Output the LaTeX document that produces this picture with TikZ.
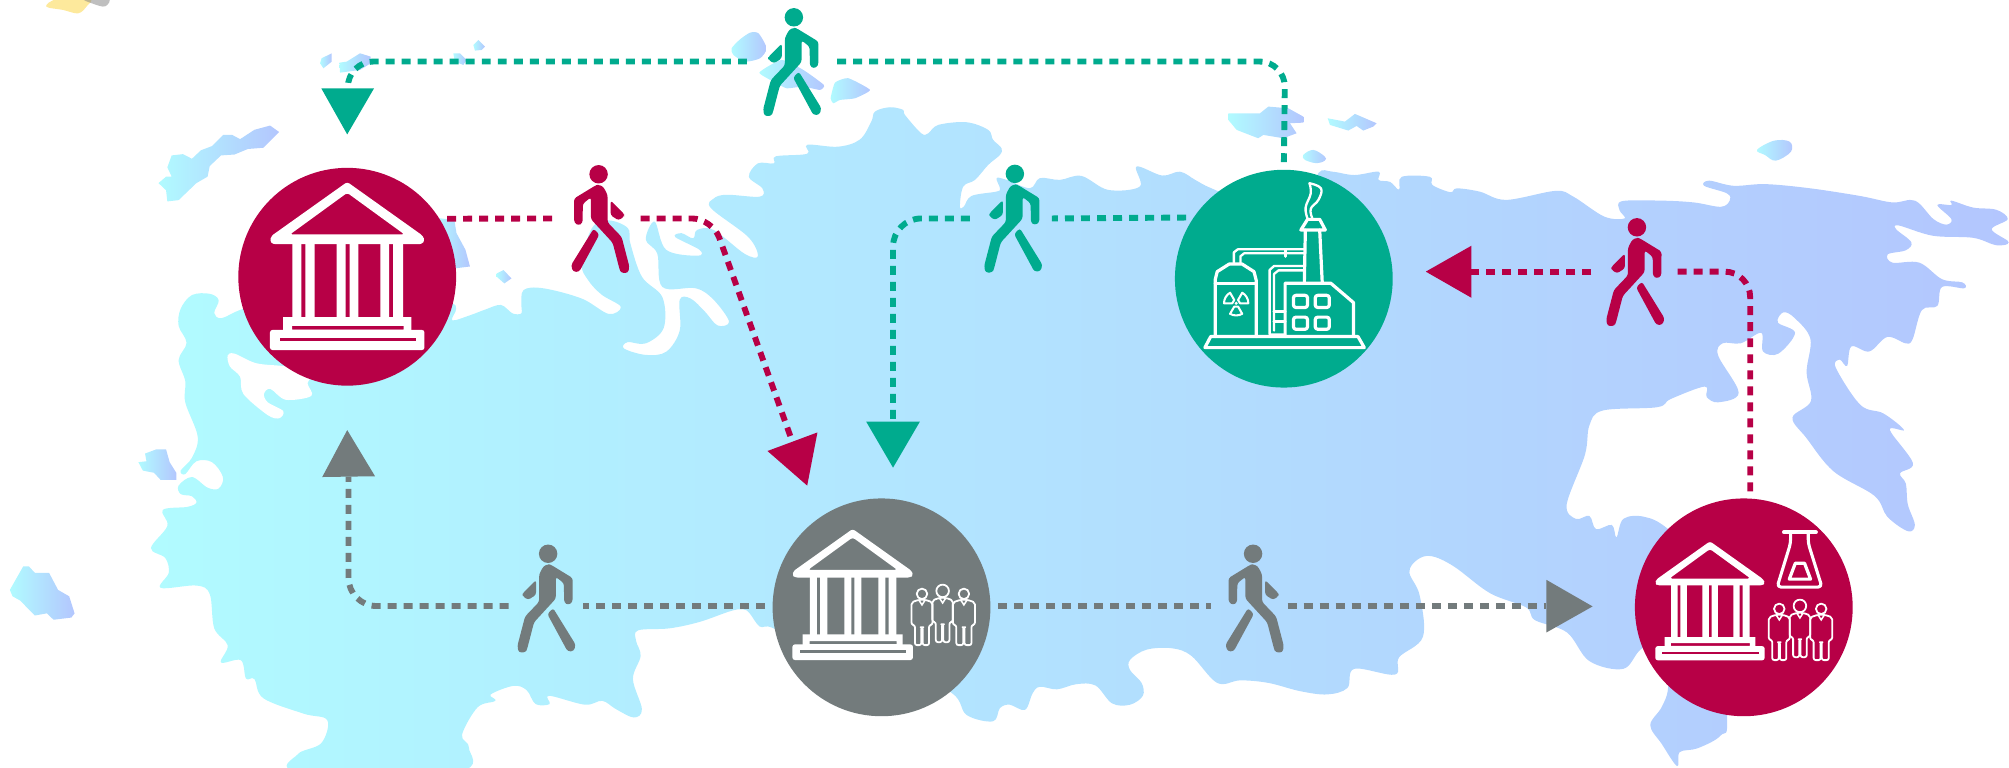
\documentclass[tikz,border=0pt]{standalone}
\usetikzlibrary{calc}
\definecolor{crim}{HTML}{B70046}
\definecolor{grn}{HTML}{00AB8E}
\definecolor{gry}{HTML}{737B7C}
\definecolor{landL}{HTML}{B1FBFF}
\definecolor{landR}{HTML}{B3C6FE}
\tikzset{
  land/.style={left color=landL,right color=landR,draw=none},
  disc/.style={circle,inner sep=0pt,minimum size=85pt,fill=#1,draw=none},
  dotline/.style={draw=#1,line width=2.3pt,dash pattern=on 3.5pt off 2.75pt},
  dotfirst/.style={dotline=#1,dash phase=3.5pt},
  icon/.style={draw=white,line width=1.25pt,line join=round,line cap=round},
  pics/walker/.style={code={
    \fill[#1] (0,0) circle[radius=7.2];
    \fill[#1,rounded corners=1pt] (0,8.2) -- (3.5,9.5) -- (7,16) -- (7,37.5) -- (18,49) -- (24,72) -- (23,77) -- (17.5,77) -- (16.3,74) -- (11,53.5) -- (-6,35) -- (-6,18) -- (-12.3,23) -- (-12.5,38) -- (-15.5,40) -- (-19,38) -- (-19.2,19) -- (-2,8.5) -- cycle;
    \fill[#1,rounded corners=1pt] (.6,47) -- (-3.9,42.5) -- (-21.5,71) -- (-20,76) -- (-15.2,76.2) -- cycle;
    \fill[#1,rounded corners=1pt] (9.4,20.5) -- (9.4,32) -- (15.6,36) -- (20,33) -- (20,31) -- cycle;
  }},
  pics/building/.style={code={
    \fill[white,even odd rule,rounded corners=1pt] (0,-1) -- (59,41) -- (60.5,45) -- (58,47.6) -- (-58,47.6) -- (-60.5,45) -- (-59,41) -- cycle
      (0,7.5) -- (44.7,40) -- (-44.7,40) -- cycle;
    \fill[white] (-42.8,47) rectangle (-35.8,105) (-32.7,47) rectangle (-25.4,105)
      (-8.3,47) rectangle (-1.3,105) (1.8,47) rectangle (8.8,105)
      (25.8,47) rectangle (32.8,105) (35.9,47) rectangle (43.6,105);
    \fill[white,even odd rule] (-50,104.6) rectangle (50,116) (-43,111.3) rectangle (44,114.3);
    \fill[white,rounded corners=1pt] (-60.3,114.5) rectangle (60.3,130.2);
    \fill[#1] (-52.5,120.6) rectangle (53.7,123.3);
  }},
  pics/staff/.style={code={
    \foreach \cx/\cy/\hw/\hr in {-16.1/2.3/8.2/4.1, 16.6/2.3/8.6/4.1, 0/0/8/4.9}{
      \begin{scope}[shift={(\cx,\cy)}]
        \draw[draw=white,line width=.7pt,line join=round] (0,0) circle[radius=\hr];
        \draw[draw=white,line width=.7pt,line join=round,rounded corners=.8pt]
          (-2.5,{\hr+.5}) -- (-\hw,{\hr+2.5}) -- (-\hw,24) -- ({-\hw+2.7},24.5) -- ({-\hw+2.7},40) -- (-.5,40) -- (-.5,26) -- (.5,26) -- (.5,40) -- ({\hw-2.7},40) -- ({\hw-2.7},24.5) -- (\hw,24) -- (\hw,{\hr+2.5}) -- (2.5,{\hr+.5}) -- cycle;
        \draw[draw=white,line width=.6pt] (-2.5,{\hr+.6}) -- (0,{\hr+4.5}) -- (2.5,{\hr+.6});
      \end{scope}
    }
  }}
}
\begin{document}
\begin{tikzpicture}[x=.5pt,y=-.5pt]
\useasboundingbox (0,0) rectangle (1568,599.4);
% stray fragment, top left
\fill[yellow!60!orange,opacity=.4] plot[smooth cycle,tension=.6] coordinates {(36,5) (45.5,-1) (70,-1) (67.6,5) (61,10.4) (49.4,7.8)};
\fill[gray,opacity=.5] plot[smooth cycle,tension=.6] coordinates {(65,-1) (84.6,-1) (82,5) (72.8,3)};
% mainland
\shade[land] plot[smooth cycle,tension=.58] coordinates {
(141,241) (149.8,230.3) (163.7,229.3) (170.7,234.3) (167.2,244.3) (173,248.3) (190,241) (230,230) (310,230) (350,236) (356,241) (353,250) (367,246) (379,241.5) (391,238) (400,244.6) (407,244.6) (407,239) (408.6,226.4) (424,225) (454,233) (475,245) (484.5,239.4) (469.6,230) (459,218.6) (454,205.6) (462,178) (475,172) (490,178) (492,190) (501,216) (517,232) (518,256) (504,268) (490,267) (487,272) (504,277) (520,274.5) (530.5,258) (530.5,234) (539,233) (550,243) (560,254) (569,251) (557,234) (543,225) (517,224) (513,198) (504,187) (511,173) (520,195) (544.5,199.6) (546,195) (527,185) (532,182) (541,186) (544,179.5) (557,179.5) (581,198) (591.5,200) (584,185) (555,162.6) (557,155) (567,152) (593,153.5) (595,147) (584.5,138) (591.5,127.5) (604,127.5) (605.5,122) (630,120) (630,113) (654,114.5) (671,109) (680,95) (683,87) (694.6,83.7) (705,85.8) (706.3,89.7) (719,104) (724.5,104) (732.3,97.5) (754.4,95.4) (771.3,101.4) (775,109) (781.7,115.7) (780.4,120.9) (771.3,128.7) (761,140.4) (751.8,145.6) (749.2,161.2) (752.3,161.2) (758.3,152.9) (777.8,149.5) (780.4,146.9) (777.8,139) (785.6,140.4) (803.8,146.9) (811.6,139) (827.2,140.4) (844,137.3) (864.9,148.2) (889.6,145.6) (887,130) (907,137) (921,134) (933,140.5) (945.6,147) (980,160) (1020,160) (1029,135) (1040,134) (1057,136.6) (1076,134) (1076,140.5) (1085,142) (1092,148) (1094,138) (1116,138) (1118,144.4) (1132,150) (1137,147) (1155,149.6) (1175.5,156) (1214,149) (1228,153.5) (1252,169) (1268,170.5) (1264,164) (1266,157) (1297,156.6) (1322,158) (1343,161.4) (1350,156.6) (1348,151) (1330,145) (1334,141) (1353,145) (1378,143.7) (1413,147) (1452,153) (1477,158) (1494.6,156.6) (1509,171) (1519,175.3) (1523,171) (1512,160) (1523,160) (1523,156.6) (1540,162) (1558,163.7) (1567,171) (1554.5,179) (1568,189) (1558,191.4) (1540,185.6) (1508.6,184) (1482,176) (1480,179) (1491.7,189) (1487.5,195.3) (1473.4,198.5) (1477,205) (1498,205) (1515.7,217.9) (1531.6,220.4) (1533,225) (1515.7,224) (1512,238.8) (1500,242) (1492.8,264.6) (1487.5,268) (1473,263) (1459,274.3) (1445,270.4) (1441.6,285.6) (1436,280.7) (1432.8,287) (1452,316) (1470,322.7) (1486,335.6) (1475,335.6) (1493,361.4) (1483,369.4) (1487.5,377.5) (1489,393.6) (1494.5,409.7) (1489,414.6) (1473,403.3) (1463,387) (1431,367.8) (1410,342) (1399,326) (1413.4,313) (1410,290.4) (1413,264.6) (1401,248.5) (1392,243.7) (1387.6,251.7) (1401,259.8) (1388,276) (1376,274.3) (1374.6,259.8) (1358.7,267.9) (1344.6,267.9) (1341,277.5) (1357,306.5) (1341,314) (1332,309.8) (1330.5,301.7) (1304,311.4) (1293.4,317.8) (1251,320.4) (1240.5,332) (1237,355) (1222.8,393.6) (1230,405) (1240.5,402.7) (1245.7,413) (1258,409.7) (1261.6,419.4) (1267,405) (1283,403.3) (1302,413) (1340,450) (1348,558) (1343,574) (1325,584) (1311,587) (1309,598) (1297,580.7) (1288,566) (1297,551.7) (1302,535.5) (1300,500) (1281,506.5) (1267,522) (1240.5,516) (1223,493.6) (1198,484) (1191,474) (1163,463) (1134.6,442) (1117,434) (1106,437) (1100,446.8) (1108,464.6) (1110.6,497) (1092,513) (1088.7,526.5) (1057,522) (1051.6,537) (1035.8,542) (1014.6,539.4) (990,533) (968,531) (950,533) (930,512) (915,506) (895,507) (882,515) (882,523) (891,533) (892,543) (882,550) (868,549) (855,535) (840,534) (825,538) (811.6,536) (806,541) (800,554) (788,550) (780.4,552.7) (775,563) (754.4,558) (743,541) (700,520) (640,510) (603.6,490.3) (593,489) (585,478.6) (580,475.5) (570,477) (546,485.4) (522.6,490.4) (498,492) (496.5,500.3) (500,512) (494,530) (501,553.5) (494.7,560) (480.8,553.5) (470,547) (456.4,550) (428.5,543) (429,549.5) (418,549.5) (411,538.6) (400.7,535.3) (383,542) (386.7,547) (372.8,552) (360.6,573.5) (366,583.5) (357,602) (233.4,602) (232.7,588.4) (250.8,580) (255.4,562) (237,557) (205.6,545) (198.6,530) (192,529.6) (188,515.3) (172.5,517) (177.7,503.6) (167.2,490.3) (163.7,463.7) (153.3,457) (125.4,458.8) (131.7,447) (129,435.5) (117.8,427.8) (130.6,410.5) (127,398) (146.3,395.6) (153.3,392.3) (149.8,387.3) (141,385.6) (139.4,379) (149.8,372.3) (162,380.6) (170.7,381.3) (174,372.3) (165.5,360.7) (153.3,360) (144.6,370) (141,367.3) (149.8,357.3) (154.3,340.7) (144.6,314) (144.6,297.5) (139.4,281) (145.6,267.6) (139.4,254.3)};
% White Sea
\fill[white] plot[smooth cycle,tension=.55] coordinates {(177.7,277.5) (183,276) (200,283.5) (223,286) (244,291) (240,299) (243,309) (223,312) (211,303.5) (206,307.5) (209,314) (221,320.8) (218,326.4) (209,324) (190,307.5) (187.4,294) (179.4,286)};
% islands
\shade[land] (958.7,88.4) -- (983.4,88.4) -- (989.9,83.2) -- (1005.5,84.5) -- (1017.2,91) -- (1017.2,95.7) -- (1006.8,96.2) -- (1012,104) -- (1001.6,107.9) -- (986,105.3) -- (982,107.9) -- (965.2,101.4) -- (958.7,93.6) -- cycle;
\shade[land] (1036.2,92.3) -- (1049.7,94.9) -- (1057.5,88.9) -- (1074.4,96.2) -- (1071.8,98.8) -- (1064,101.9) -- (1058.8,98.3) -- (1052.3,101.9) -- (1038,97.5) -- cycle;
\shade[land] plot[smooth cycle,tension=.6] coordinates {(1017.2,120.9) (1025,117) (1034,122.2) (1034,125.3) (1027.6,127.4) (1018.5,124.8)};
\shade[land] (251,45.5) -- (258.9,41.6) -- (258.9,48.1) -- (252.4,53.3) -- (249.8,49.4) -- cycle;
\shade[land] (264.9,48.9) -- (270.6,48.1) -- (281,41.6) -- (289.3,44.2) -- (289.3,49.4) -- (281,54.6) -- (265.4,56.7) -- cycle;
\shade[land] (353.8,41.6) -- (359,41.6) -- (364.2,46.8) -- (361.6,50.7) -- (355,48.1) -- cycle;
\shade[land] (373.3,31.2) -- (378.5,36.4) -- (375.9,39) -- (370.7,39.5) -- (369.4,35.1) -- cycle;
\shade[land] plot[smooth cycle,tension=.4] coordinates {(571,37.7) (577.6,30.7) (585.4,25.5) (592,26) (598.4,37.7) (593.2,45.5) (581.5,48.1) (572.4,42.9)};
\shade[land] plot[smooth cycle,tension=.3] coordinates {(592.7,56.7) (610,46.8) (627,54.6) (643,66.3) (640,70.2) (627,67.6) (614,68.9) (606.2,65)};
\shade[land] plot[smooth cycle,tension=.3] coordinates {(651.7,64.5) (662,61) (679,70.2) (667.3,76.7) (655.6,78) (650.4,80.6) (648.3,76.7)};
\shade[land] (123.7,142.9) -- (129.6,137.9) -- (134,137.9) -- (130.6,130.6) -- (134,121.3) -- (142.8,120.3) -- (149.8,123.9) -- (156.8,117.3) -- (165.5,114) -- (174.2,105.3) -- (181.2,105.3) -- (187.4,108.6) -- (198.6,101.3) -- (210.8,98) -- (217.8,103) -- (205.6,115.3) -- (193.4,116.3) -- (183,120.6) -- (172.5,121.3) -- (163.7,129.6) -- (162,137.9) -- (153.3,142.9) -- (139.4,156.2) -- (130.6,157.2) -- (129.6,148.5) -- cycle;
\shade[land] (108,360.7) -- (114.3,360) -- (113.2,354) -- (122,350.7) -- (129.6,350.7) -- (132.4,360.7) -- (137.6,369) -- (137.6,374.6) -- (125.4,374.6) -- (120.2,369) -- (111.5,367.3) -- cycle;
\shade[land] (7.7,460.4) -- (18.1,442.1) -- (22.6,442.1) -- (27.2,447.1) -- (38.3,447.1) -- (45.3,460.4) -- (54,465.4) -- (58.2,478.7) -- (55.7,482) -- (41.8,483.7) -- (36.6,478.7) -- (27.2,480.4) -- (15.7,468.7) -- (9.8,465.4) -- cycle;
\shade[land] (340,170) -- (354.6,171.7) -- (356.3,182) -- (363.3,195) -- (366.8,208) -- (354.6,209.5) -- (340,205) -- cycle;
\shade[land] (387.7,213.4) -- (393,210.8) -- (399.2,217.3) -- (393.6,221.2) -- (387.7,216) -- cycle;
\shade[land] plot[smooth cycle,tension=.6] coordinates {(1371.3,117) (1384.6,109.8) (1396.8,110.6) (1397.8,118.4) (1386,125.4) (1377.6,121)};
% hubs
\node[disc=crim,anchor=center] (A) at (271,216) {};
\node[disc=gry,anchor=center] (B) at (688,474) {};
\node[disc=grn,anchor=center] (C) at (1002,217.5) {};
\node[disc=crim,anchor=center] (D) at (1361,474) {};
% connector way-points
\coordinate (tEnd) at (271.5,69);
\coordinate (tCornerL) at (271.5,48);
\coordinate (tGapL) at (583,48);
\coordinate (tGapR) at (652,48);
\coordinate (tCornerR) at (1003,48);
\coordinate (aGapL) at (433,170.5);
\coordinate (aGapR) at (500,170.5);
\coordinate (aCorner) at (556,170.5);
\coordinate (aEnd) at (618.5,345);
\coordinate (cGapR) at (821,170.5);
\coordinate (cGapL) at (757,170.5);
\coordinate (cCorner) at (697,170.5);
\coordinate (cEnd) at (697,329);
\coordinate (dCorner) at (1366,212);
\coordinate (dGapR) at (1308,212);
\coordinate (dGapL) at (1242,212);
\coordinate (dEnd) at (1148.4,212);
\coordinate (dStart) at (1366,389);
\coordinate (bGapLR) at (454.7,473);
\coordinate (bGapLL) at (397,473);
\coordinate (bCorner) at (272,473);
\coordinate (bEndL) at (272,372);
\coordinate (bGapRL) at (945,473);
\coordinate (bGapRR) at (1005,473);
\coordinate (bEndR) at (1207,473);
% connectors
\draw[dotfirst=grn,rounded corners=10pt] (C.north) -- (tCornerR) -- (tGapR);
\draw[dotline=grn,rounded corners=10pt] (tGapL) -- (tCornerL) -- (tEnd);
\draw[dotfirst=crim] (A.32.3) -- (aGapL);
\draw[dotline=crim,rounded corners=8pt] (aGapR) -- (aCorner) -- (aEnd);
\draw[dotfirst=grn] (C.146.4) -- (cGapR);
\draw[dotline=grn,rounded corners=11pt] (cGapL) -- (cCorner) -- (cEnd);
\draw[dotfirst=crim,rounded corners=10pt] (dStart) -- (dCorner) -- (dGapR);
\draw[dotline=crim] (dGapL) -- (dEnd);
\draw[dotfirst=gry] (B.west |- bGapLR) -- (bGapLR);
\draw[dotline=gry,rounded corners=11pt] (bGapLL) -- (bCorner) -- (bEndL);
\draw[dotfirst=gry] (B.east |- bGapRL) -- (bGapRL);
\draw[dotline=gry] (bGapRR) -- (bEndR);
% arrowheads
\fill[grn] (250.8,69) -- (291.9,69) -- (271,104.9) -- cycle;
\fill[gry] (271,335.7) -- (251.5,372.3) -- (292.7,371.7) -- cycle;
\fill[crim] (638,337.5) -- (599,352) -- (630,379) -- cycle;
\fill[grn] (676,329) -- (718,329) -- (697,365) -- cycle;
\fill[crim] (1112.8,212) -- (1148.4,191.8) -- (1148.4,232.4) -- cycle;
\fill[gry] (1207,452.6) -- (1207,493.6) -- (1243,473.3) -- cycle;
% icons: columned buildings
\pic at (271,143) {building=crim};
\pic[scale=.78] at (665.5,413.6) {building=gry};
\pic[scale=.708] at (1334.6,423.2) {building=crim};
\pic at (735.7,461.2) {staff};
\pic at (1404.8,472.9) {staff};
% flask
\draw[icon,line width=1.5pt] (1392.3,415.4) -- (1417.3,415.4);
\draw[icon,line width=1.2pt,rounded corners=1.5pt] (1397.5,416.2) -- (1397.5,424) -- (1387,458.2) -- (1422,458.2) -- (1411.3,424) -- (1411.3,416.2);
\draw[icon] (1401.2,439.6) -- (1408.4,439.6) -- (1413.1,452) -- (1396.5,452) -- cycle;
% factory
\draw[icon] (940.4,271.3) -- (1064.8,271.3) -- (1059.9,262.7) -- (944.9,262.7) -- cycle;
\draw[icon] (948.4,262.7) -- (948.4,218.5) -- (950,212) -- (959.5,206) -- (969.3,206) -- (978.7,212) -- (980.4,218.5) -- (980.4,262.7);
\draw[icon] (948.4,221) -- (980.4,221);
\draw[icon,line width=.9pt] (963,205) -- (963,197) -- (966,194.6) -- (1018,194.6);
\draw[icon,line width=.9pt] (968.2,205) -- (968.2,200) -- (971,197.7) -- (1018,197.7);
\draw[icon] (1003,195) -- (1003,200);
\draw[icon,line width=.9pt] (1003,261) -- (990.9,261) -- (990.9,210.7) -- (994.4,207.6) -- (1018,207.6);
\draw[icon,line width=.9pt] (994.4,258) -- (994.4,213.8) -- (997.9,211) -- (1018,211);
\draw[icon] (994.4,243) -- (1003,243) (994.4,251) -- (1003,251);
\draw[icon] (1018.8,179.5) -- (1018,221) (1030,179.5) -- (1032,221);
\draw[icon] (1020.5,171.2) -- (1030,171.2) -- (1034.4,179.5) -- (1015.3,179.5) -- cycle;
\draw[icon,line width=.9pt] plot[smooth,tension=.7] coordinates {(1022,143) (1031,147) (1029,156) (1023,163) (1024.3,170.5)};
\draw[icon,line width=.9pt] plot[smooth,tension=.7] coordinates {(1022,143) (1023,151) (1019,162) (1020.5,170.5)};
\draw[icon] (1003,262.7) -- (1003,221) -- (1038.6,221) -- (1056.4,236.2) -- (1056.4,262.7);
\draw[icon,rounded corners=1pt] (1009.5,230.5) rectangle (1020.5,240);
\draw[icon,rounded corners=1pt] (1026.5,230.5) rectangle (1037.5,240);
\draw[icon,rounded corners=1pt] (1009.5,247.5) rectangle (1020.5,257);
\draw[icon,rounded corners=1pt] (1026.5,247.5) rectangle (1037.5,257);
\begin{scope}[shift={(964.8,236.7)}]
  \foreach \a in {-150,-30,90}{
    \draw[icon,line width=.8pt] (\a-30:3) -- (\a-30:9.5) arc[start angle=\a-30,end angle=\a+30,radius=9.5] -- (\a+30:3) -- cycle;
  }
  \fill[white] (0,0) circle[radius=1.3];
\end{scope}
% walkers
\pic[xscale=-1] at (619.6,13.5) {walker=grn};
\pic at (467.2,136) {walker=crim};
\pic[xscale=-1] at (792.1,135.7) {walker=grn};
\pic[xscale=-1] at (1277.6,177.4) {walker=crim};
\pic[xscale=-1] at (427.8,432.2) {walker=gry};
\pic at (978,432.2) {walker=gry};
\end{tikzpicture}
\end{document}
